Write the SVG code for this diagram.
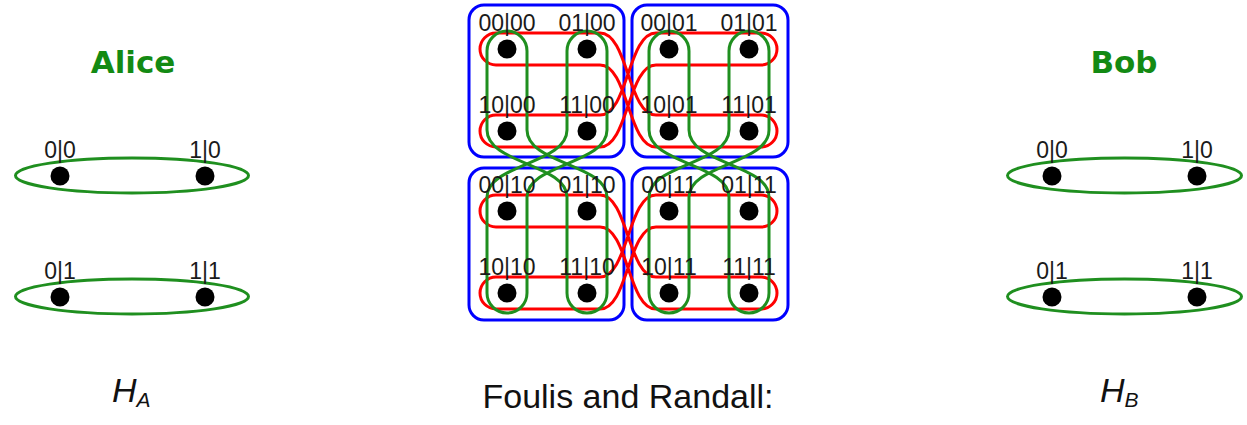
<svg xmlns="http://www.w3.org/2000/svg" width="1247" height="425" viewBox="0 0 1247 425">
<defs>
<style>
.bg{fill:#ffffff}
.box{fill:none;stroke:#0000ff;stroke-width:3}
.red{fill:none;stroke:#ff0000;stroke-width:3}
.grn{fill:none;stroke:#1f8f1f;stroke-width:3}
.dot{fill:#000000}
.lbl{font-family:"Liberation Sans",Arial,sans-serif;font-size:23px;fill:#1a1a1a;text-anchor:middle}
.name{font-family:"DejaVu Sans",sans-serif;font-weight:bold;font-size:31px;fill:#138a13;text-anchor:middle}
.cap{font-family:"Liberation Sans",Arial,sans-serif;font-size:34px;fill:#111111}
</style>
<path id="redPair" d="M496,33 H600 C628,33 628,115 656,115 H761 A16,16 0 0 1 761,147 H656 C628,147 628,65 600,65 H496 A16,16 0 0 1 496,33 Z M761,33 H656 C628,33 628,115 600,115 H496 A16,16 0 0 0 496,147 H600 C628,147 628,65 656,65 H761 A16,16 0 0 0 761,33 Z"/>
<path id="grnPair" d="M487,51 V130 C487,164 567,164 567,197 V293 A20,20 0 0 0 607,293 V197 C607,164 527,164 527,130 V51 A20,20 0 0 0 487,51 Z M567,51 V130 C567,164 487,164 487,197 V293 A20,20 0 0 0 527,293 V197 C527,164 607,164 607,130 V51 A20,20 0 0 0 567,51 Z"/>
</defs>
<rect class="bg" x="0" y="0" width="1247" height="425"/>

<g id="connectors">
  <g id="tests-product">
    <rect class="box" x="469" y="5" width="155" height="152" rx="15"/>
    <rect class="box" x="632" y="5" width="156" height="152" rx="15"/>
    <rect class="box" x="469" y="168" width="155" height="152" rx="15"/>
    <rect class="box" x="632" y="168" width="156" height="152" rx="15"/>
  </g>
  <g id="tests-red">
    <use href="#redPair" class="red"/>
    <use href="#redPair" class="red" transform="translate(0,162)"/>
  </g>
  <g id="tests-green">
    <use href="#grnPair" class="grn"/>
    <use href="#grnPair" class="grn" transform="translate(162,0)"/>
  </g>
  <g id="tests-alice">
    <ellipse class="grn" cx="132" cy="175.5" rx="116.5" ry="17.5"/>
    <ellipse class="grn" cx="132" cy="296.5" rx="116.5" ry="17.5"/>
  </g>
  <g id="tests-bob">
    <ellipse class="grn" cx="1124.5" cy="175.5" rx="117" ry="17.5"/>
    <ellipse class="grn" cx="1124.5" cy="296.5" rx="117" ry="17.5"/>
  </g>
</g>

<g id="alice">
  <text class="name" x="133" y="73">Alice</text>
  <g id="a-00"><circle class="dot" cx="60" cy="176" r="9.5"/><text class="lbl" x="60" y="158">0|0</text></g>
  <g id="a-10"><circle class="dot" cx="205" cy="176" r="9.5"/><text class="lbl" x="205" y="158">1|0</text></g>
  <g id="a-01"><circle class="dot" cx="60" cy="297" r="9.5"/><text class="lbl" x="60" y="279">0|1</text></g>
  <g id="a-11"><circle class="dot" cx="205" cy="297" r="9.5"/><text class="lbl" x="205" y="279">1|1</text></g>
</g>

<g id="bob">
  <text class="name" x="1124" y="73">Bob</text>
  <g id="b-00"><circle class="dot" cx="1052" cy="176" r="9.5"/><text class="lbl" x="1052" y="158">0|0</text></g>
  <g id="b-10"><circle class="dot" cx="1197" cy="176" r="9.5"/><text class="lbl" x="1197" y="158">1|0</text></g>
  <g id="b-01"><circle class="dot" cx="1052" cy="297" r="9.5"/><text class="lbl" x="1052" y="279">0|1</text></g>
  <g id="b-11"><circle class="dot" cx="1197" cy="297" r="9.5"/><text class="lbl" x="1197" y="279">1|1</text></g>
</g>

<g id="product">
  <g id="p-0000"><circle class="dot" cx="507" cy="49" r="9.5"/><text class="lbl" x="507" y="31">00|00</text></g>
  <g id="p-0100"><circle class="dot" cx="587" cy="49" r="9.5"/><text class="lbl" x="587" y="31">01|00</text></g>
  <g id="p-1000"><circle class="dot" cx="507" cy="131" r="9.5"/><text class="lbl" x="507" y="113">10|00</text></g>
  <g id="p-1100"><circle class="dot" cx="587" cy="131" r="9.5"/><text class="lbl" x="587" y="113">11|00</text></g>
  <g id="p-0001"><circle class="dot" cx="669" cy="49" r="9.5"/><text class="lbl" x="669" y="31">00|01</text></g>
  <g id="p-0101"><circle class="dot" cx="749" cy="49" r="9.5"/><text class="lbl" x="749" y="31">01|01</text></g>
  <g id="p-1001"><circle class="dot" cx="669" cy="131" r="9.5"/><text class="lbl" x="669" y="113">10|01</text></g>
  <g id="p-1101"><circle class="dot" cx="749" cy="131" r="9.5"/><text class="lbl" x="749" y="113">11|01</text></g>
  <g id="p-0010"><circle class="dot" cx="507" cy="211" r="9.5"/><text class="lbl" x="507" y="193">00|10</text></g>
  <g id="p-0110"><circle class="dot" cx="587" cy="211" r="9.5"/><text class="lbl" x="587" y="193">01|10</text></g>
  <g id="p-1010"><circle class="dot" cx="507" cy="293" r="9.5"/><text class="lbl" x="507" y="275">10|10</text></g>
  <g id="p-1110"><circle class="dot" cx="587" cy="293" r="9.5"/><text class="lbl" x="587" y="275">11|10</text></g>
  <g id="p-0011"><circle class="dot" cx="669" cy="211" r="9.5"/><text class="lbl" x="669" y="193">00|11</text></g>
  <g id="p-0111"><circle class="dot" cx="749" cy="211" r="9.5"/><text class="lbl" x="749" y="193">01|11</text></g>
  <g id="p-1011"><circle class="dot" cx="669" cy="293" r="9.5"/><text class="lbl" x="669" y="275">10|11</text></g>
  <g id="p-1111"><circle class="dot" cx="749" cy="293" r="9.5"/><text class="lbl" x="749" y="275">11|11</text></g>
</g>

<g id="captions">
  <text class="cap" x="112" y="402" font-style="italic" font-size="31">H<tspan font-size="21" dy="5">A</tspan></text>
  <text class="cap" x="628" y="408" text-anchor="middle">Foulis and Randall:</text>
  <text class="cap" x="1100" y="402" font-style="italic" font-size="31">H<tspan font-size="21" dy="5">B</tspan></text>
</g>
</svg>
